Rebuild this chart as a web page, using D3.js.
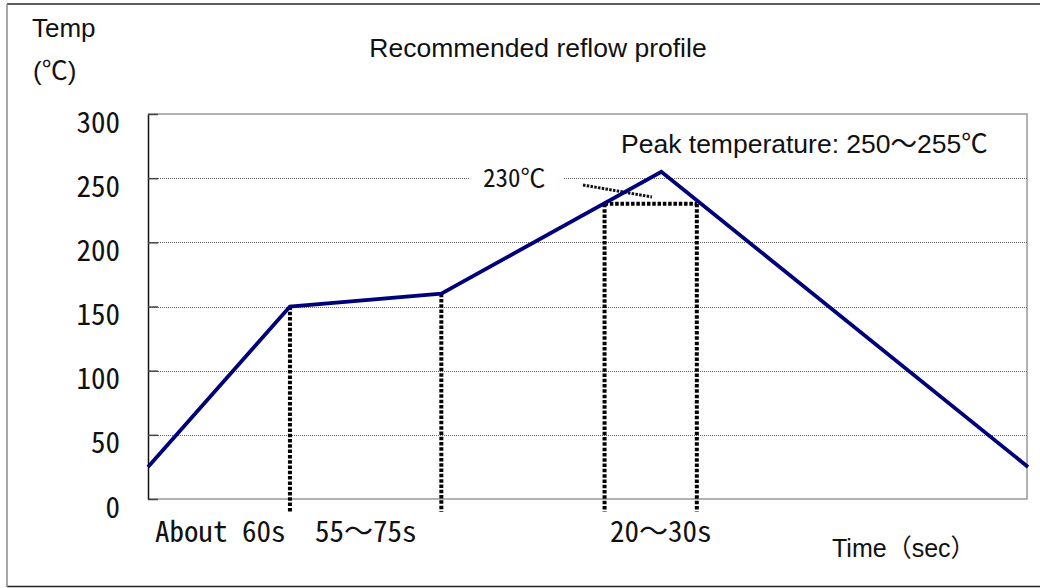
<!DOCTYPE html>
<meta charset="utf-8" />
<style>
  body {
    margin: 0px;
    padding: 0px;
    background: #fff;
  }
  svg {
    display: block;
  }
  .sans {
    font-family: "Liberation Sans", Arial, "Noto Sans CJK JP", sans-serif;
    fill: #111;
  }
  .goth {
    font-family: "Noto Sans CJK JP", sans-serif;
    font-feature-settings: "hwid" 1;
    font-weight: 400;
    fill: #111;
  }
  .full {
    font-feature-settings: normal;
  }
  .grid line {
    stroke: #666;
    stroke-width: 1px;
    stroke-dasharray: 1, 1;
  }
</style>

<svg width="1040" height="588"></svg>

<script src="https://d3js.org/d3.v7.min.js"></script>
<script>
  // reflow profile, time in seconds, temperature in degC
  const times = [0, 60, 124, 217, 372];
  const temps = [25, 150, 160, 255, 25];

  // dotted markers: time and the temperature where they start
  const markerTimes = [60, 124, 193, 232];
  const markerTops = [150, 160, 230, 230];

  const yTicks = [0, 50, 100, 150, 200, 250, 300];
  const gridTicks = [50, 100, 150, 200, 250];

  const svg = d3.select("svg");

  const x = d3.scaleLinear().domain([0, 372]).range([148, 1028]);
  const y = d3.scaleLinear().domain([0, 300]).range([499, 114]);

  // outer frame
  svg.append("line").attr("x1", 7).attr("y1", 4).attr("x2", 1040).attr("y2", 4).attr("stroke", "#222").attr("stroke-width", 1.5);
  svg.append("line").attr("x1", 7).attr("y1", 586.5).attr("x2", 1040).attr("y2", 586.5).attr("stroke", "#222").attr("stroke-width", 1.5);
  svg.append("line").attr("x1", 7).attr("y1", 4).attr("x2", 7).attr("y2", 587).attr("stroke", "#888").attr("stroke-width", 1.5);

  // plot box
  svg
    .append("path")
    .attr("d", `M${x(0)},${y(300)}H${x(372) - 1}V${y(0)}H${x(0)}`)
    .attr("fill", "none")
    .attr("stroke", "#999")
    .attr("stroke-width", 1.5);

  // gridlines
  svg
    .append("g")
    .attr("class", "grid")
    .selectAll("line")
    .data(gridTicks)
    .enter()
    .append("line")
    .attr("x1", x(0))
    .attr("x2", x(372) - 1)
    .attr("y1", (d) => Math.round(y(d)) + 0.5)
    .attr("y2", (d) => Math.round(y(d)) + 0.5);

  // y axis
  const yAxis = svg
    .append("g")
    .attr("transform", `translate(${x(0)},0)`)
    .call(d3.axisLeft(y).tickValues(yTicks).tickSizeInner(-10).tickSizeOuter(0).tickPadding(28));
  yAxis.select(".domain").attr("stroke", "#111").attr("stroke-width", 1.5);
  yAxis.selectAll(".tick line").attr("stroke", "#444").attr("stroke-width", 1.5);
  yAxis
    .selectAll(".tick text")
    .attr("class", "goth")
    .attr("font-size", 29)
    .attr("dy", 0)
    .attr("y", 18);
  yAxis.attr("font-family", null).attr("font-size", null);

  // label for 230 degC sits on a white patch over the 250 gridline
  svg.append("rect").attr("x", 470).attr("y", y(250) - 4).attr("width", 94).attr("height", 8).attr("fill", "#fff");
  const t230 = svg.append("text").attr("class", "goth").attr("x", 483).attr("y", 187).attr("font-size", 25);
  t230.append("tspan").text("230");
  t230.append("tspan").attr("class", "full").text("℃");

  // leader line
  svg
    .append("line")
    .attr("x1", 583)
    .attr("y1", 185)
    .attr("x2", 652)
    .attr("y2", 197)
    .attr("stroke", "#111")
    .attr("stroke-width", 3)
    .attr("stroke-dasharray", "2.5,1.3");

  // vertical dotted markers
  svg
    .append("g")
    .selectAll("line")
    .data(markerTimes)
    .enter()
    .append("line")
    .attr("x1", (d) => x(d))
    .attr("x2", (d) => x(d))
    .attr("y1", (d, i) => y(markerTops[i]))
    .attr("y2", y(-10))
    .attr("stroke", "#000")
    .attr("stroke-width", 4)
    .attr("stroke-dasharray", "3.5,1.8");

  // horizontal dotted at 230 between the last two markers
  svg
    .append("line")
    .attr("x1", x(markerTimes[2]))
    .attr("x2", x(markerTimes[3]))
    .attr("y1", y(230))
    .attr("y2", y(230))
    .attr("stroke", "#000")
    .attr("stroke-width", 4)
    .attr("stroke-dasharray", "3.5,1.8");

  // the profile
  const line = d3
    .line()
    .x((d, i) => x(times[i]))
    .y((d) => y(d));
  svg
    .append("path")
    .datum(temps)
    .attr("d", line)
    .attr("fill", "none")
    .attr("stroke", "#00007a")
    .attr("stroke-width", 3.8)
    .attr("stroke-linejoin", "miter");

  // texts
  svg.append("text").attr("class", "sans").attr("x", 32).attr("y", 37).attr("font-size", 26).text("Temp");
  svg.append("text").attr("class", "sans").attr("x", 33).attr("y", 80).attr("font-size", 26).text("(℃)");
  svg
    .append("text")
    .attr("class", "sans")
    .attr("x", 538)
    .attr("y", 57)
    .attr("text-anchor", "middle")
    .attr("font-size", 26.5)
    .text("Recommended reflow profile");
  svg.append("text").attr("class", "sans").attr("x", 621).attr("y", 153).attr("font-size", 26.5).text("Peak temperature: 250～255℃");
  svg.append("text").attr("class", "sans").attr("x", 832).attr("y", 557).attr("font-size", 25).text("Time（sec）");

  // range labels under the axis, the wave dash kept full width
  function rangeLabel(xPos, parts) {
    const t = svg.append("text").attr("class", "goth").attr("x", xPos).attr("y", 542).attr("font-size", 29);
    parts.forEach((p) => {
      const s = t.append("tspan").text(p);
      if (p === "～") s.attr("class", "full");
    });
  }
  rangeLabel(155, ["About 60s"]);
  rangeLabel(315, ["55", "～", "75s"]);
  rangeLabel(610, ["20", "～", "30s"]);
</script>
